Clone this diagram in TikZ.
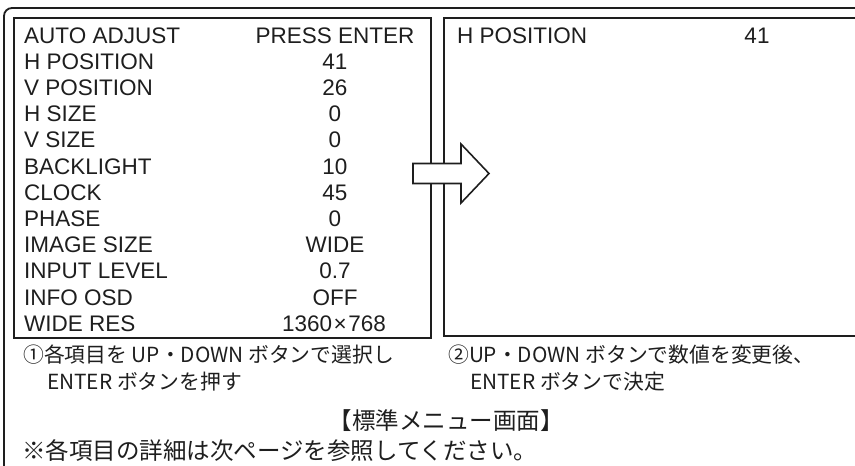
\documentclass[tikz,border=0pt]{standalone}
\usepackage{fontspec}
\newfontfamily\jpfont{Noto Sans CJK JP}
\newfontfamily\latfont{Liberation Sans}
\definecolor{tinta}{RGB}{30,30,30}
\tikzset{
    marco/.style={
        draw=tinta,
        line width=1.8pt
    },
    item/.style={
        anchor=base west,
        inner sep=0pt,
        text=tinta,
        font=\latfont\fontsize{22.5}{22.5}\selectfont
    },
    valor/.style={
        anchor=base,
        inner sep=0pt,
        text=tinta,
        font=\latfont\fontsize{22.5}{22.5}\selectfont
    },
    nota/.style={
        anchor=base west,
        inner sep=0pt,
        text=tinta,
        font=\jpfont\fontsize{20.8}{20.8}\selectfont
    },
    aviso/.style={
        nota,
        font=\jpfont\fontsize{23.5}{23.5}\selectfont
    }
}

\begin{document}
\begin{tikzpicture}[
    x=1pt,
    y=-1pt
]

    \useasboundingbox (0,0) rectangle (855,466);

    % Marcos
    \draw[marco, rounded corners=8pt] (4,8) rectangle (880,490);

    \node[marco, anchor=north west, minimum width=417pt,
          minimum height=320pt] (menu) at (13,17) {};
    \node[marco, anchor=north west, minimum width=430pt,
          minimum height=318pt] (ajuste) at (443,17) {};

    % Flecha
    \draw[tinta, line width=1.6pt, fill=white]
        (413,163.5) -- (461,163.5) -- (461,144) -- (489,173.5)
        -- (461,203) -- (461,183.5) -- (413,183.5) -- cycle;

    % Menu
    \node[item]  (autoadj)    at (24,43)    {AUTO ADJUST};
    \node[valor] (autoadjv)   at (335,43)   {PRESS ENTER};

    \node[item]  (hpos)       at (24,69.2)  {H POSITION};
    \node[valor] (hposv)      at (335,69.2) {41};

    \node[item]  (vpos)       at (24,95.4)  {V POSITION};
    \node[valor] (vposv)      at (335,95.4) {26};

    \node[item]  (hsize)      at (24,121.6) {H SIZE};
    \node[valor] (hsizev)     at (335,121.6) {0};

    \node[item]  (vsize)      at (24,147.8) {V SIZE};
    \node[valor] (vsizev)     at (335,147.8) {0};

    \node[item]  (backlight)  at (24,174)   {BACKLIGHT};
    \node[valor] (backlightv) at (335,174)  {10};

    \node[item]  (clock)      at (24,200.2) {CLOCK};
    \node[valor] (clockv)     at (335,200.2) {45};

    \node[item]  (phase)      at (24,226.4) {PHASE};
    \node[valor] (phasev)     at (335,226.4) {0};

    \node[item]  (imgsize)    at (24,252.6) {IMAGE SIZE};
    \node[valor] (imgsizev)   at (335,252.6) {WIDE};

    \node[item]  (inlevel)    at (24,278.8) {INPUT LEVEL};
    \node[valor] (inlevelv)   at (335,278.8) {0.7};

    \node[item]  (osd)        at (24,305)   {INFO OSD};
    \node[valor] (osdv)       at (335,305)  {OFF};

    \node[item]  (wideres)    at (24,331.2) {WIDE RES};
    \node[valor] (wideresv)   at (334,331.2) {1360\kern1.5pt×\kern1.5pt768};

    % Ajuste
    \node[item]  (hposB)      at (457,43)   {H POSITION};
    \node[valor] (hposBv)     at (757,43)   {41};

    % Notas
    \node[nota] (paso1)  at (23,362.5) {①各項目を UP・DOWN ボタンで選択し};
    \node[nota] (paso1b) at (47,389.5) {ENTER ボタンを押す};

    \node[nota] (paso2)  at (448,362.5) {②UP・DOWN ボタンで数値を変更後、};
    \node[nota] (paso2b) at (470,389.5) {ENTER ボタンで決定};

    \node[aviso, anchor=base] (titulo) at (446,429) {【標準メニュー画面】};
    \node[aviso] (detalle) at (22,459) {※各項目の詳細は次ページを参照してください。};

\end{tikzpicture}
\end{document}
